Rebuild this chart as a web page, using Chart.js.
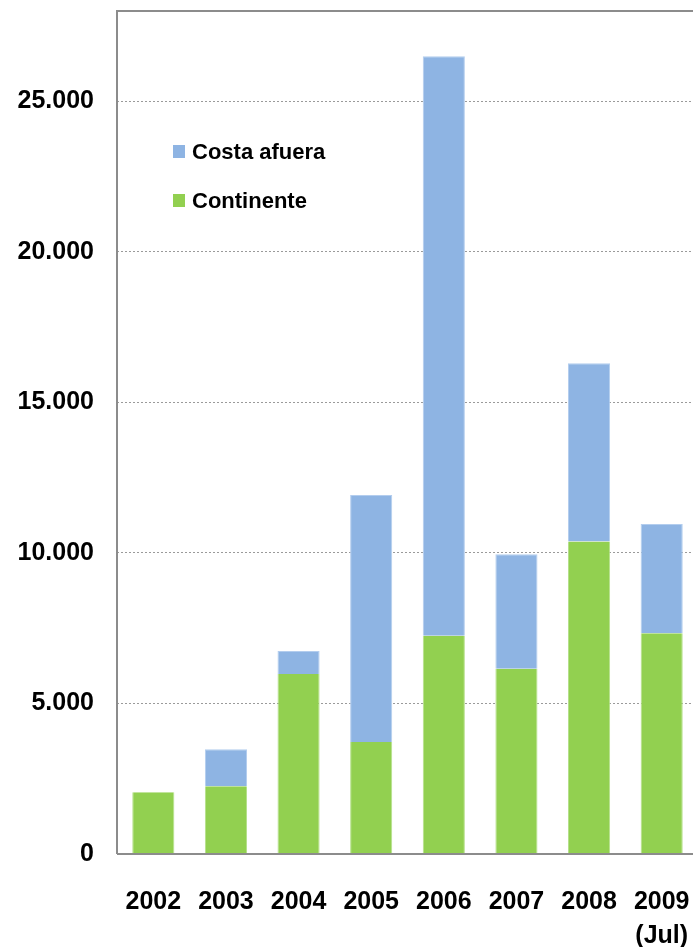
<!DOCTYPE html>
<html>
<head>
<meta charset="utf-8">
<script src="https://cdn.jsdelivr.net/npm/chart.js@4.4.1/dist/chart.umd.min.js"></script>
<style>
  html, body { margin: 0; padding: 0; background: #fff; overflow: hidden; }
  #wrap { width: 693px; height: 947px; overflow: hidden; }
</style>
</head>
<body>
<div id="wrap"><canvas id="chart" width="698" height="947"></canvas></div>
<script>
const years = ['2002', '2003', '2004', '2005', '2006', '2007', '2008', ['2009', '(Jul)']];
const continente = [2050, 2250, 5980, 3720, 7250, 6150, 10380, 7330];
const costaAfuera = [0, 1230, 760, 8200, 19250, 3810, 5920, 3630];
const yTicks = [0, 5000, 10000, 15000, 20000, 25000];

const FONT = "'Liberation Sans', Arial, sans-serif";

// frame round the plot area + legend inside it
const framePlugin = {
  id: 'frame',
  afterDraw(chart) {
    const { ctx, chartArea: a } = chart;
    ctx.save();
    ctx.strokeStyle = '#8c8c8c';
    ctx.lineWidth = 2;
    ctx.beginPath();
    ctx.moveTo(a.left, a.bottom);
    ctx.lineTo(a.left, a.top);
    ctx.lineTo(a.right, a.top);
    ctx.lineTo(a.right, a.bottom);
    ctx.lineTo(a.left, a.bottom);
    ctx.stroke();

    // legend, top series first
    const ds = chart.data.datasets.slice().reverse();
    ctx.font = 'bold 22px ' + FONT;
    ctx.textBaseline = 'middle';
    ds.forEach((d, i) => {
      const x = a.left + 56;
      const y = a.top + 141 + i * 49;
      ctx.fillStyle = d.backgroundColor;
      ctx.fillRect(x, y - 7, 12, 13);
      ctx.fillStyle = '#000';
      ctx.fillText(d.label, x + 19, y + 1);
    });
    ctx.restore();
  }
};

new Chart(document.getElementById('chart'), {
  type: 'bar',
  data: {
    labels: years,
    datasets: [
      {
        label: 'Continente',
        data: continente,
        backgroundColor: '#92D050',
        borderColor: '#b5e08a',
        borderWidth: { left: 1, right: 1, top: 0, bottom: 0 },
      },
      {
        label: 'Costa afuera',
        data: costaAfuera,
        backgroundColor: '#8EB4E3',
        borderColor: '#b3cdee',
        borderWidth: { left: 1, right: 1, top: 1, bottom: 0 },
      },
    ],
  },
  options: {
    responsive: false,
    animation: false,
    layout: { padding: { top: 11, left: 0, right: 0, bottom: 0 } },
    datasets: { bar: { categoryPercentage: 1, barPercentage: 0.58 } },
    plugins: { legend: { display: false }, tooltip: { enabled: false } },
    scales: {
      x: {
        stacked: true,
        grid: { display: false },
        border: { display: false },
        ticks: {
          color: '#000',
          font: { family: FONT, size: 25, weight: 'bold', lineHeight: 1.36 },
          padding: 23,
          maxRotation: 0,
          autoSkip: false,
        },
        afterFit(s) {
          s.height = 93;
          s.paddingLeft = 0;
          s.paddingRight = 0;
        },
      },
      y: {
        stacked: true,
        min: 0,
        max: 28000,
        afterBuildTicks(s) { s.ticks = yTicks.map(v => ({ value: v })); },
        grid: {
          color: '#9a9a9a',
          lineWidth: 1,
          drawTicks: false,
        },
        border: { display: false, dash: [2, 2] },
        ticks: {
          color: '#000',
          font: { family: FONT, size: 25, weight: 'bold' },
          padding: 23,
          callback: v => v.toLocaleString('de-DE'),
        },
        afterFit(s) {
          s.width = 117;
          s.paddingTop = 0;
          s.paddingBottom = 0;
        },
      },
    },
  },
  plugins: [framePlugin],
});
</script>
</body>
</html>
